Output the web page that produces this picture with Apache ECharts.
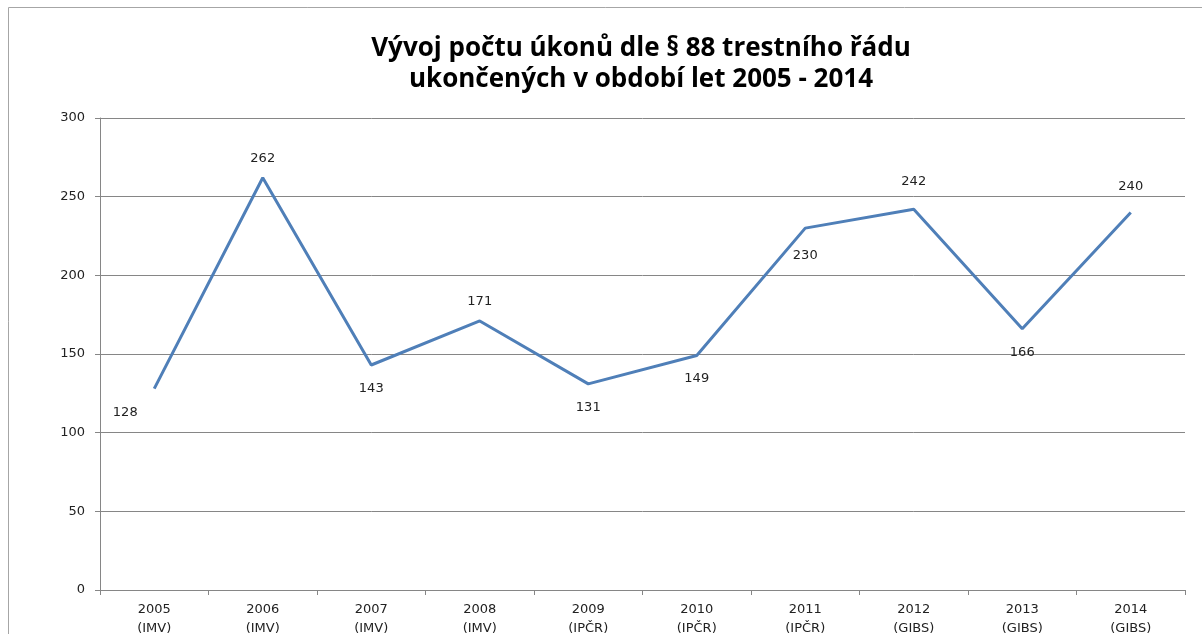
<!DOCTYPE html>
<html><head><meta charset="utf-8">
<script src="https://cdn.jsdelivr.net/npm/echarts@6/dist/echarts.min.js"></script>
<style>html,body{margin:0;padding:0;background:#fff}#c{width:1202px;height:634px}</style>
</head><body><div id="c"></div>
<script>
const titleText = 'Vývoj počtu úkonů dle § 88 trestního řádu\nukončených v období let 2005 - 2014';
const categories = ['2005\n(IMV)','2006\n(IMV)','2007\n(IMV)','2008\n(IMV)','2009\n(IPČR)','2010\n(IPČR)','2011\n(IPČR)','2012\n(GIBS)','2013\n(GIBS)','2014\n(GIBS)'];
const values = [128, 262, 143, 171, 131, 149, 230, 242, 166, 240];
const labelPlaces = ['bottomLeft','top','bottom','top','bottom','bottom','bottom','top','bottom','top'];

const chart = echarts.init(document.getElementById('c'), null, {renderer:'canvas'});
const font = '"Open Sans", "DejaVu Sans", sans-serif';
const smallFont = '"DejaVu Sans", sans-serif';
const data = values.map((v,i)=>{
  const p = labelPlaces[i];
  let label = {position: p==='top'?'top':'bottom', distance: p==='top'?12:16};
  if (p==='bottomLeft') label = {position:'bottom', offset:[-29,2], distance:15};
  if (i===7) label.distance = 20;
  if (i===9) label.distance = 18;
  if (i===6) label.distance = 20;
  return {value:v, label};
});
chart.setOption({
  animation:false,
  graphic:[{type:'rect', shape:{x:8.5,y:7.5,width:1300,height:700}, style:{fill:null, stroke:'#a6a6a6', lineWidth:1}, z:-1}],
  title:{text:titleText, left:636, textAlign:'center', top:28,
    textStyle:{fontFamily:font, fontSize:26, fontWeight:'bold', color:'#000', lineHeight:31}},
  grid:{left:100, right:17, top:118, bottom:44, containLabel:false, outerBoundsMode:'none'},
  xAxis:{type:'category', data:categories, boundaryGap:true,
    axisLine:{lineStyle:{color:'#868686', width:1}},
    axisTick:{show:true, length:5, alignWithLabel:false, lineStyle:{color:'#868686'}},
    axisLabel:{fontFamily:smallFont, fontSize:13, color:'#222', margin:10, lineHeight:19, interval:0},
    splitLine:{show:false}},
  yAxis:{type:'value', min:0, max:300, interval:50,
    axisLine:{show:true, lineStyle:{color:'#868686', width:1}},
    axisTick:{show:true, length:5, lineStyle:{color:'#868686'}},
    axisLabel:{fontFamily:smallFont, fontSize:13, color:'#222', margin:15},
    splitLine:{show:true, lineStyle:{color:'#868686', width:1}}},
  series:[{type:'line', data:data, showSymbol:true, symbol:'circle', symbolSize:2,
    itemStyle:{color:'rgba(79,127,184,0)', borderWidth:0},
    lineStyle:{color:'#4f7fb8', width:3},
    label:{show:true, fontFamily:smallFont, fontSize:13, color:'#222'}}]
});
</script></body></html>
